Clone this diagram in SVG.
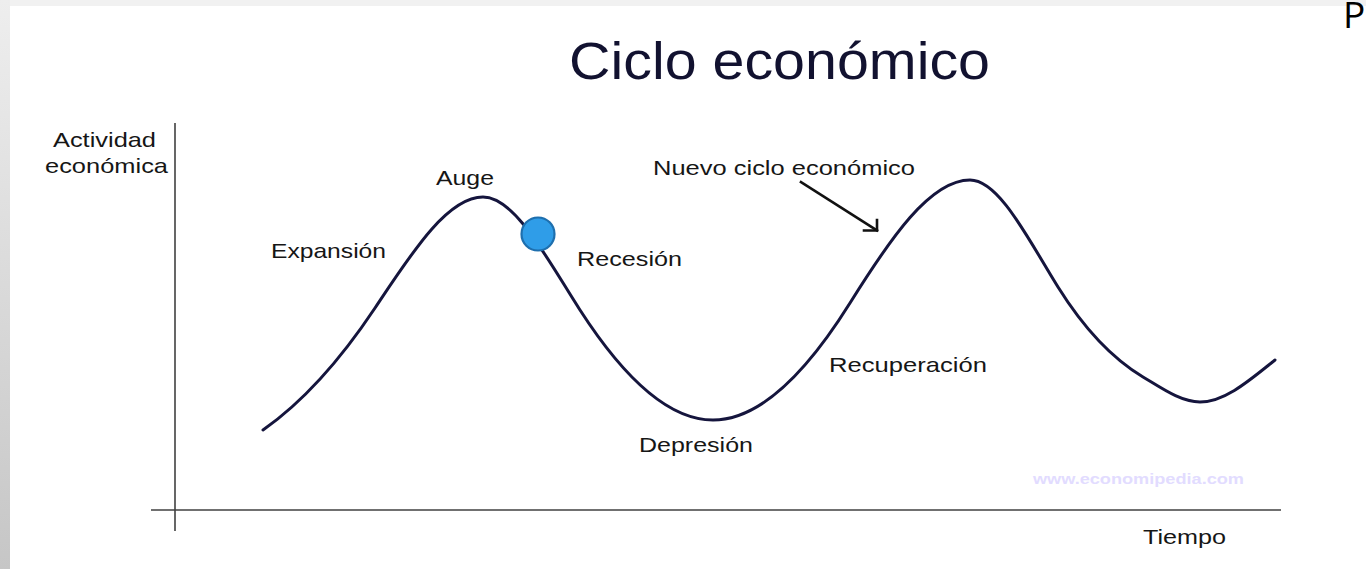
<svg xmlns="http://www.w3.org/2000/svg" width="1366" height="569" viewBox="0 0 1366 569">
<defs>
<linearGradient id="leftband" x1="0" y1="0" x2="0" y2="1">
<stop offset="0" stop-color="#eeeeee"/>
<stop offset="1" stop-color="#c6c6c6"/>
</linearGradient>
<style>
.lbl{font-family:"Liberation Sans",Arial,sans-serif;font-size:21px;fill:#161616}
.title{font-family:"Liberation Sans",Arial,sans-serif;font-size:51px;fill:#121230}
.wm{font-family:"Liberation Sans",Arial,sans-serif;font-size:15px;font-weight:bold;fill:#e2dcff}
.axis{stroke:#404040;stroke-width:1.6;fill:none}
.curve{stroke:#15153d;stroke-width:3;fill:none;stroke-linecap:round;stroke-linejoin:round}
.arrow{stroke:#111111;stroke-width:2.6;fill:none;stroke-linecap:square}
</style>
</defs>
<rect x="0" y="0" width="1366" height="569" fill="#ffffff"/>
<rect x="0" y="0" width="1366" height="6" fill="#f1f1f1"/>
<rect x="0" y="0" width="10" height="569" fill="url(#leftband)"/>
<text x="1343" y="28" font-family="'Open Sans',sans-serif" font-size="37" fill="#000000">P</text>

<g id="title"><text class="title" x="569" y="79" textLength="421" lengthAdjust="spacingAndGlyphs">Ciclo económico</text></g>

<g id="axes">
<line class="axis" x1="175" y1="123" x2="175" y2="531"/>
<line class="axis" x1="151" y1="510" x2="1281" y2="510"/>
</g>

<g id="y-label">
<text class="lbl" x="53" y="147" textLength="103" lengthAdjust="spacingAndGlyphs">Actividad</text>
<text class="lbl" x="45" y="173" textLength="123" lengthAdjust="spacingAndGlyphs">económica</text>
</g>
<g id="x-label"><text class="lbl" x="1143" y="544" textLength="83" lengthAdjust="spacingAndGlyphs">Tiempo</text></g>

<g id="cycle-curve">
<path class="curve" d="M263,430 C300.3,403.9 337.7,364 375,308 C411,254 447,197 483,197 C515.3,197 547.7,259.9 580,310 C624.3,378.7 668.7,420 713,420 C758.7,420 804.3,376.1 850,303 C890,239 930,180 970,180 C999.3,180 1028.7,240.1 1058,287 C1086.3,332.3 1114.7,360 1143,377 C1162,388.4 1181,402 1200,402 C1225,402 1250,380 1275,360"/>
</g>

<g id="point"><circle cx="538" cy="234" r="16.5" fill="#2f9de8" stroke="#1e6fae" stroke-width="2.2"/></g>

<g id="lbl-expansion"><text class="lbl" x="271" y="258" textLength="115" lengthAdjust="spacingAndGlyphs">Expansión</text></g>
<g id="lbl-auge"><text class="lbl" x="436" y="185" textLength="58" lengthAdjust="spacingAndGlyphs">Auge</text></g>
<g id="lbl-recesion"><text class="lbl" x="577" y="266" textLength="105" lengthAdjust="spacingAndGlyphs">Recesión</text></g>
<g id="lbl-depresion"><text class="lbl" x="639" y="452" textLength="114" lengthAdjust="spacingAndGlyphs">Depresión</text></g>
<g id="lbl-recuperacion"><text class="lbl" x="829" y="372" textLength="158" lengthAdjust="spacingAndGlyphs">Recuperación</text></g>
<g id="lbl-nuevo"><text class="lbl" x="653" y="175" textLength="262" lengthAdjust="spacingAndGlyphs">Nuevo ciclo económico</text></g>

<g id="connectors">
<line class="arrow" x1="801" y1="182" x2="877" y2="230.5"/>
<polyline class="arrow" points="864,230.5 877,230.5 877,220"/>
</g>

<g id="watermark"><text class="wm" x="1033" y="484" textLength="211" lengthAdjust="spacingAndGlyphs">www.economipedia.com</text></g>
</svg>
